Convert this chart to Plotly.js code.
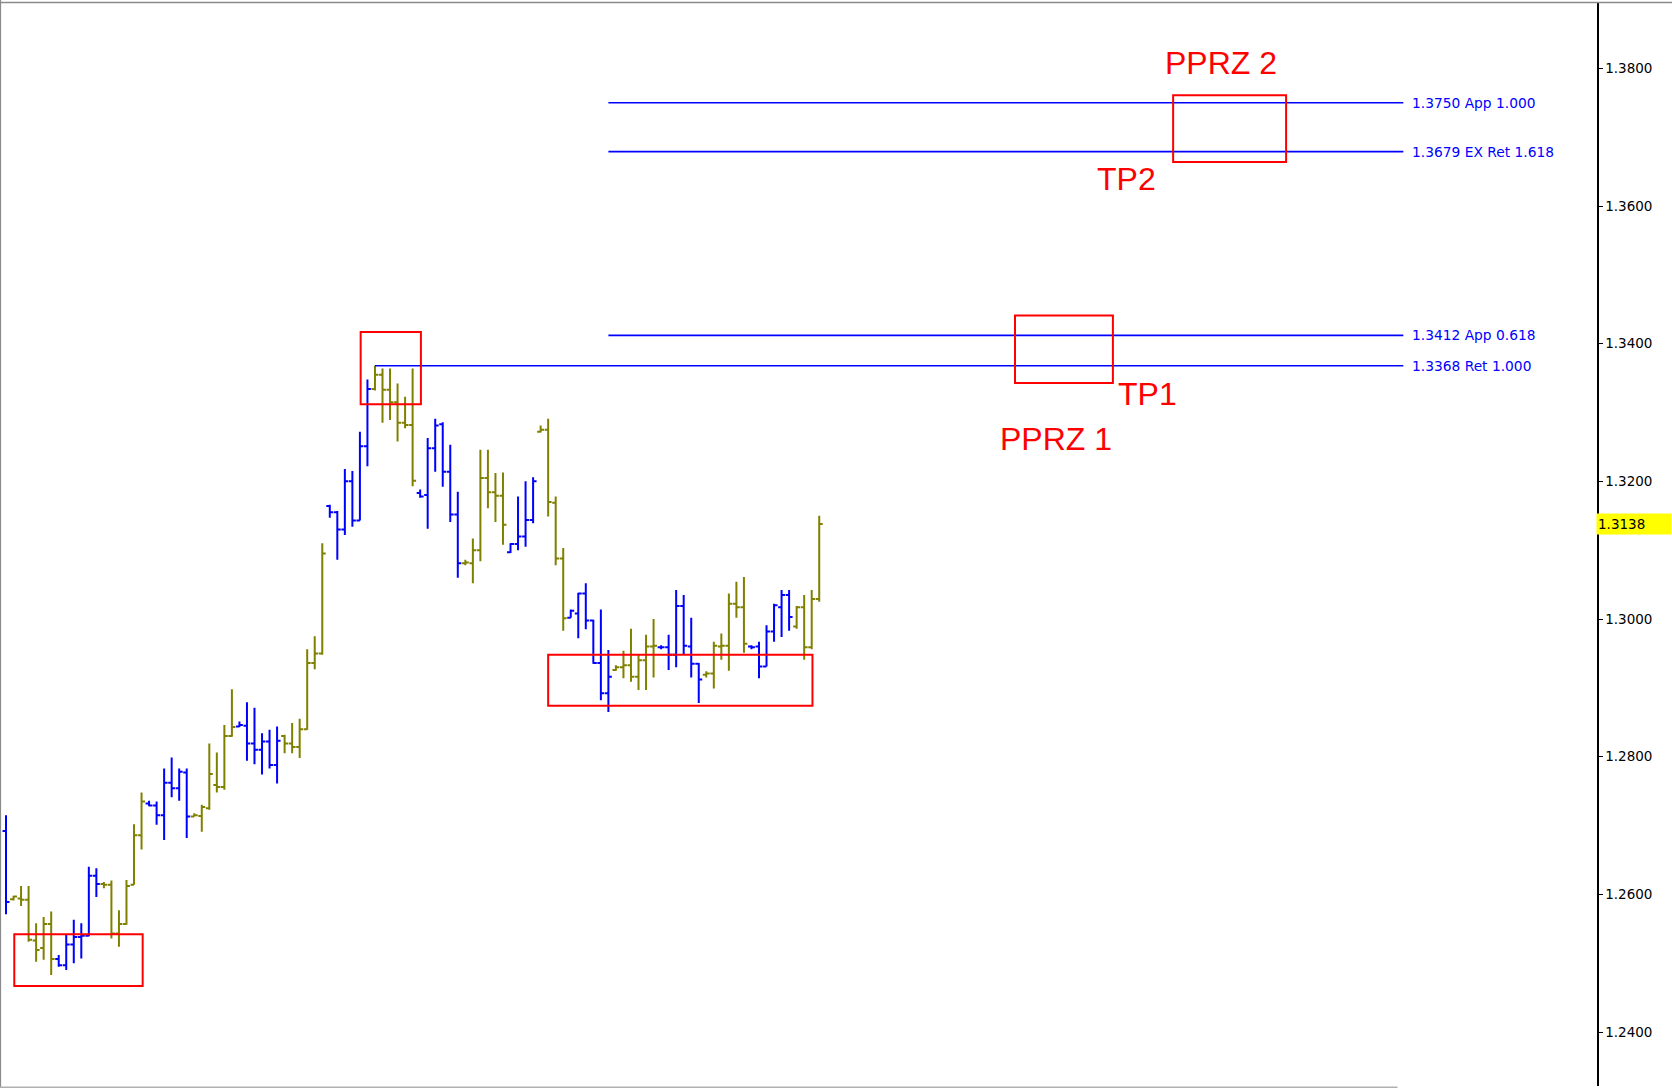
<!DOCTYPE html>
<html><head><meta charset="utf-8">
<script src="https://cdn.plot.ly/plotly-3.0.1.min.js"></script>
<style>html,body{margin:0;padding:0;background:#fff;overflow:hidden}#chart{width:1672px;height:1088px}</style>
</head><body><div id="chart"></div>
<script>
// ---- Data (daily bars) ----
const barOpen = [1.2692,1.2593,1.2594,1.2592,1.2533,1.2522,1.2557,1.2506,1.2497,1.2527,
1.2538,1.2540,1.2627,1.2615,1.2614,1.2543,1.2557,1.2614,1.2686,1.2732,
1.2729,1.2715,1.2762,1.2754,1.2777,1.2713,1.2714,1.2725,1.2759,1.2756,
1.2830,1.2844,1.2845,1.2819,1.2810,1.2822,1.2788,1.2830,1.2819,1.2814,
1.2840,1.2936,1.2950,1.3164,1.3155,1.3130,1.3200,1.3143,1.3251,1.3334,
1.3355,1.3333,1.3315,1.3285,1.3282,1.3183,1.3180,1.3248,1.3283,1.3214,
1.3152,1.3081,1.3081,1.3100,1.3205,1.3184,1.3179,1.3097,1.3109,1.3120,
1.3144,1.3272,1.3275,1.3169,1.3088,1.3002,1.3008,1.3037,1.2998,1.2936,
1.2892,1.2926,1.2930,1.2933,1.2916,1.2940,1.2960,1.2959,1.2959,1.2948,
1.3019,1.2960,1.2935,1.2919,1.2921,1.2960,1.2961,1.3022,1.3017,1.2960,
1.2960,1.2931,1.2982,1.3017,1.3035,1.2989,1.3017,1.2959,1.3029];
const barHigh = [1.2715,1.2598,1.2612,1.2612,1.2558,1.2567,1.2575,1.2512,1.2541,1.2563,
1.2558,1.2640,1.2638,1.2618,1.2620,1.2577,1.2621,1.2702,1.2748,1.2736,
1.2735,1.2783,1.2799,1.2783,1.2783,1.2718,1.2730,1.2819,1.2806,1.2846,
1.2898,1.2851,1.2879,1.2871,1.2834,1.2839,1.2844,1.2832,1.2849,1.2855,
1.2956,1.2975,1.3110,1.3166,1.3157,1.3218,1.3215,1.3272,1.3348,1.3368,
1.3364,1.3364,1.3342,1.3323,1.3364,1.3188,1.3263,1.3291,1.3286,1.3253,
1.3185,1.3086,1.3117,1.3246,1.3246,1.3212,1.3213,1.3110,1.3178,1.3200,
1.3206,1.3281,1.3291,1.3178,1.3103,1.3014,1.3038,1.3052,1.2999,1.3014,
1.2955,1.2933,1.2954,1.2986,1.2949,1.2977,1.3000,1.2962,1.2977,1.3042,
1.3035,1.3002,1.2936,1.2924,1.2967,1.2979,1.3037,1.3054,1.3061,1.2962,
1.2967,1.2991,1.3022,1.3042,1.3042,1.3019,1.3035,1.3042,1.3150];
const barLow = [1.2571,1.2591,1.2583,1.2531,1.2502,1.2505,1.2483,1.2495,1.2490,1.2500,
1.2507,1.2539,1.2596,1.2609,1.2536,1.2524,1.2556,1.2614,1.2665,1.2728,
1.2701,1.2679,1.2741,1.2736,1.2682,1.2713,1.2691,1.2723,1.2748,1.2752,
1.2829,1.2843,1.2794,1.2789,1.2774,1.2783,1.2761,1.2805,1.2805,1.2798,
1.2839,1.2927,1.2948,1.3147,1.3086,1.3122,1.3134,1.3143,1.3222,1.3332,
1.3285,1.3289,1.3258,1.3277,1.3193,1.3176,1.3131,1.3214,1.3192,1.3141,
1.3060,1.3078,1.3052,1.3084,1.3161,1.3141,1.3108,1.3096,1.3100,1.3105,
1.3139,1.3271,1.3149,1.3078,1.2983,1.3002,1.2972,1.2985,1.2935,1.2882,
1.2865,1.2925,1.2914,1.2909,1.2897,1.2897,1.2915,1.2956,1.2926,1.2930,
1.2948,1.2915,1.2878,1.2915,1.2899,1.2941,1.2925,1.3002,1.2951,1.2956,
1.2914,1.2931,1.2967,1.2974,1.2983,1.2986,1.2941,1.2956,1.3025];
const barClose = [1.2589,1.2597,1.2592,1.2534,1.2519,1.2557,1.2506,1.2497,1.2527,1.2538,
1.2540,1.2627,1.2615,1.2614,1.2543,1.2557,1.2612,1.2686,1.2735,1.2729,
1.2715,1.2762,1.2754,1.2778,1.2713,1.2715,1.2727,1.2775,1.2756,1.2830,
1.2843,1.2846,1.2819,1.2810,1.2822,1.2788,1.2823,1.2819,1.2814,1.2840,
1.2936,1.2950,1.3095,1.3155,1.3130,1.3200,1.3143,1.3251,1.3334,1.3355,
1.3333,1.3315,1.3285,1.3282,1.3201,1.3178,1.3248,1.3281,1.3214,1.3152,
1.3081,1.3082,1.3100,1.3205,1.3184,1.3179,1.3137,1.3109,1.3120,1.3144,
1.3200,1.3275,1.3170,1.3088,1.3001,1.3012,1.3037,1.2998,1.2936,1.2892,
1.2916,1.2930,1.2933,1.2916,1.2940,1.2960,1.2961,1.2959,1.2948,1.3019,
1.2961,1.2935,1.2912,1.2921,1.2961,1.2961,1.3022,1.3017,1.2964,1.2959,
1.2931,1.2982,1.3020,1.3035,1.3003,1.3017,1.2959,1.3029,1.3138];
// alternating weekly groups (0 / 1)
const weekGroup = [0,1,1,1,1,1,1,0,0,0,
0,0,0,1,1,1,1,1,1,0,
0,0,0,0,0,1,1,1,1,1,
1,0,0,0,0,0,0,1,1,1,
1,1,1,0,0,0,0,0,0,1,
1,1,1,1,1,0,0,0,0,0,
0,1,1,1,1,1,1,0,0,0,
0,1,1,1,1,0,0,0,0,0,
0,1,1,1,1,1,1,0,0,0,
0,0,0,1,1,1,1,1,1,0,
0,0,0,0,0,1,1,1,1];

const fibLevels = [1.3750, 1.3679, 1.3412, 1.3368];
const fibNames = ['App 1.000', 'EX Ret 1.618', 'App 0.618', 'Ret 1.000'];
const fibStartBar = [80, 80, 80, 49];
const fibEndBar = [185.57, 185.57, 185.57, 185.57];

const zoneBar0 = [1.1, 47.1, 72.0, 134.0, 155.0];
const zoneBar1 = [18.15, 55.1, 107.1, 147.0, 170.0];
const zoneLow = [1.2467, 1.3312, 1.2874, 1.3343, 1.3664];
const zoneHigh = [1.2542, 1.3417, 1.2948, 1.3441, 1.3761];

const zoneLabelText = ['PPRZ 2', 'TP2', 'TP1', 'PPRZ 1'];
const zoneLabelBar = [161.42, 148.87, 151.65, 139.40];
const zoneLabelPrice = [1.38078, 1.36398, 1.33276, 1.32618];

const priceTicks = [1.24, 1.26, 1.28, 1.30, 1.32, 1.34, 1.36, 1.38];

// ---- Styles ----
const groupColors = ['#0000ff', '#808000'];
const fibColor = '#0000ff';
const zoneColor = '#ff0000';
const axisFont = {family: 'DejaVu Sans, Verdana, sans-serif', size: 13.5, color: '#000000'};

const barIndex = barClose.map((_, i) => i);
const pick = (arr, g) => arr.filter((_, i) => weekGroup[i] === g);

const traces = [0, 1].map(g => ({
  type: 'ohlc',
  x: pick(barIndex, g),
  open: pick(barOpen, g), high: pick(barHigh, g), low: pick(barLow, g), close: pick(barClose, g),
  increasing: {line: {color: groupColors[g], width: 2}},
  decreasing: {line: {color: groupColors[g], width: 2}},
  tickwidth: 0.46,
  hoverinfo: 'skip', showlegend: false
}));

fibLevels.forEach((lvl, k) => {
  traces.push({
    type: 'scatter', mode: 'lines',
    x: [fibStartBar[k], fibEndBar[k]], y: [lvl, lvl],
    line: {color: fibColor, width: 1.6},
    hoverinfo: 'skip', showlegend: false
  });
});

const annotations = [];
fibLevels.forEach((lvl, k) => {
  annotations.push({
    xref: 'x', yref: 'y', x: fibEndBar[k] + 0.85, y: lvl,
    text: lvl.toFixed(4) + ' ' + fibNames[k],
    showarrow: false, xanchor: 'left', yanchor: 'middle',
    font: {family: 'DejaVu Sans, Verdana, sans-serif', size: 13.8, color: fibColor}
  });
});
zoneLabelText.forEach((t, k) => {
  annotations.push({
    xref: 'x', yref: 'y', x: zoneLabelBar[k], y: zoneLabelPrice[k],
    text: t, showarrow: false, xanchor: 'center', yanchor: 'middle',
    font: {family: 'Liberation Sans, Arial, sans-serif', size: 32, color: zoneColor}
  });
});
const lastClose = barClose[barClose.length - 1];
annotations.push({
  xref: 'paper', yref: 'y', x: 1, xshift: -1, y: lastClose,
  text: lastClose.toFixed(4), showarrow: false, xanchor: 'left', yanchor: 'middle',
  align: 'left', width: 72, height: 18, borderpad: 1, bgcolor: '#ffff00',
  font: axisFont
});

const shapes = zoneBar0.map((x0, k) => ({
  type: 'rect', xref: 'x', yref: 'y',
  x0: x0, x1: zoneBar1[k], y0: zoneLow[k], y1: zoneHigh[k],
  line: {color: zoneColor, width: 2}, fillcolor: 'rgba(0,0,0,0)'
}));
// window frame
shapes.push({type: 'line', xref: 'paper', yref: 'paper', x0: -0.001, x1: 1.05, y0: 1.0005, y1: 1.0005, line: {color: '#8a8a8a', width: 1.5}});
shapes.push({type: 'line', xref: 'paper', yref: 'paper', x0: -0.0004, x1: -0.0004, y0: -0.003, y1: 1.003, line: {color: '#8a8a8a', width: 1.5}});
shapes.push({type: 'line', xref: 'paper', yref: 'paper', x0: -0.001, x1: 0.875, y0: -0.0011, y1: -0.0011, line: {color: '#b0b0b0', width: 1.5}});

const layout = {
  width: 1672, height: 1088,
  margin: {l: 1, r: 75, t: 3, b: 2, pad: 0},
  paper_bgcolor: '#ffffff', plot_bgcolor: '#ffffff',
  showlegend: false,
  xaxis: {
    range: [-0.664, 211.29], showgrid: false, zeroline: false, showticklabels: false,
    ticks: '', showline: false, rangeslider: {visible: false}, fixedrange: true
  },
  yaxis: {
    side: 'right', range: [1.23216, 1.38949], showgrid: false, zeroline: false,
    tickvals: priceTicks, ticktext: priceTicks.map(v => v.toFixed(4)),
    ticks: 'outside', ticklen: 4, tickwidth: 1, tickcolor: '#000000',
    showline: true, linecolor: '#000000', linewidth: 1.5,
    tickfont: axisFont, fixedrange: true
  },
  annotations: annotations,
  shapes: shapes
};

Plotly.newPlot('chart', traces, layout, {staticPlot: true, displayModeBar: false});
</script>
</body></html>
